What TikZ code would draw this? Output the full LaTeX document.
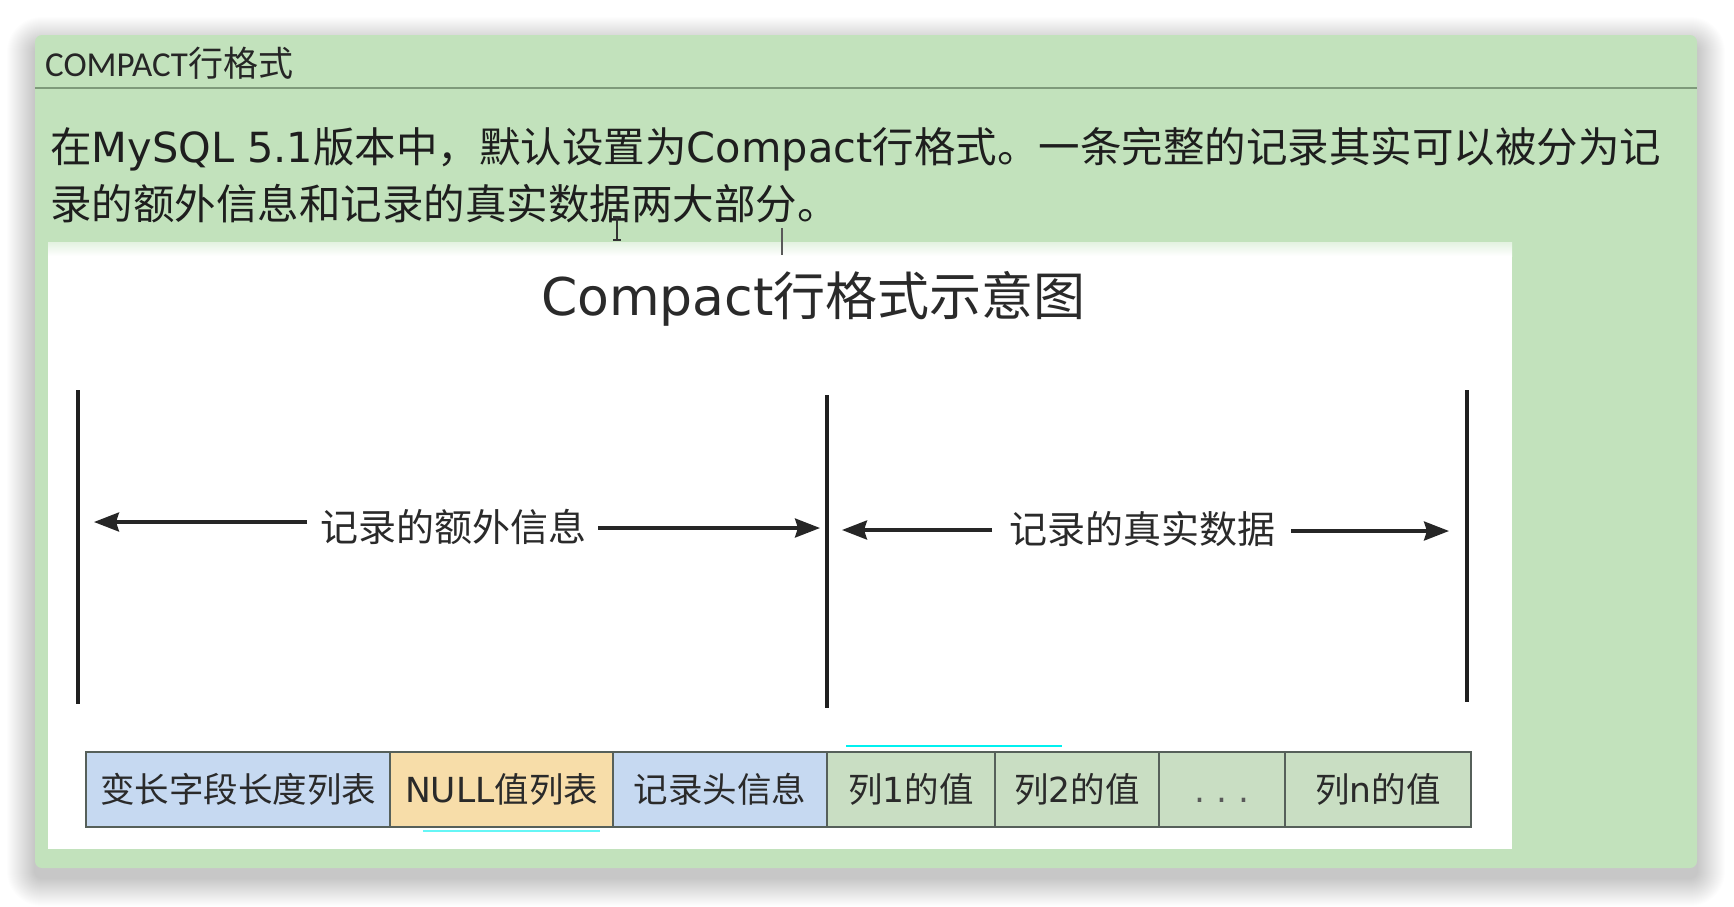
\documentclass[tikz,border=0pt]{standalone}
\usepackage{fontspec}
\newfontfamily\cjk{Noto Sans CJK SC}
\newfontfamily\dv{DejaVu Sans}
\newfontfamily\carl{Carlito}
\usetikzlibrary{arrows.meta}
\definecolor{panelgreen}{HTML}{C2E2BC}
\definecolor{headline}{HTML}{7E9A7A}
\definecolor{bodytext}{HTML}{1E1E1E}
\definecolor{diagtext}{HTML}{2A2A2A}
\definecolor{cblue}{HTML}{C6D9F1}
\definecolor{corange}{HTML}{F7DDA9}
\definecolor{cgreen}{HTML}{C9DEC3}
\definecolor{cellborder}{HTML}{56605A}
\definecolor{selcyan}{HTML}{00F0F0}
\tikzset{
  cell/.style={draw=cellborder, line width=1.8pt, minimum height=75pt, inner sep=0pt,
    text=diagtext, font=\cjk\fontsize{34.5}{40}\selectfont, text height=30pt, text depth=4pt},
  sectlabel/.style={inner sep=0pt, text=diagtext, font=\cjk\fontsize{38}{44}\selectfont,
    text height=33pt, text depth=5pt},
  divider/.style={line width=3.3pt, draw=black!88},
  darrow/.style={line width=3.3pt, draw=black!85, -{Stealth[length=25pt,width=19pt,inset=3pt]}},
  bodyline/.style={anchor=base west, inner sep=0pt, text=bodytext, font=\fontsize{41.5}{48}\selectfont}
}
\begin{document}
\begin{tikzpicture}[x=1pt,y=-1pt]
\useasboundingbox[fill=white] (0,0) rectangle (1734,906);
% soft shadow
\foreach \i in {1,...,28}{
  \fill[black, opacity=0.0065, rounded corners={(7+\i)*1pt}]
    ({35-\i},{35-\i+10}) rectangle ({1697+\i},{868+\i+10});
}
% panel
\fill[panelgreen, rounded corners=7pt] (35,35) rectangle (1697,868);
\draw[headline, line width=1.6pt] (35,88) -- (1697,88);
\node[anchor=base west, inner sep=0pt, text=black!85, font=\fontsize{35}{40}\selectfont] (hdr) at (45,76)
  {{\carl COMPACT}{\cjk 行格式}};
\node[bodyline] (l1) at (50,162)
  {{\cjk 在}{\dv MySQL 5.1}{\cjk 版本中，默认设置为}{\dv Compact}{\cjk 行格式。一条完整的记录其实可以被分为记}};
\node[bodyline] (l2) at (50,219)
  {{\cjk 录的额外信息和记录的真实数据两大部分。}};
% white drawing area
\fill[white] (48,242) rectangle (1512,849);
\fill[top color=panelgreen!45, bottom color=white] (48,242) rectangle (1512,256);
% cursor artifacts
\draw[black!80, line width=1.4pt] (617,217) -- (617,240) (613,217) -- (621,217) (613,240) -- (621,240);
\draw[black!65, line width=1.4pt] (782,228) -- (782,255);
% title
\node[anchor=base, inner sep=0pt, text=diagtext, font=\fontsize{52}{60}\selectfont] (title) at (813.5,315)
  {{\dv Compact}{\cjk 行格式示意图}};
% dividers
\coordinate (v1t) at (78,390); \coordinate (v1b) at (78,704);
\coordinate (v2t) at (827,395); \coordinate (v2b) at (827,708);
\coordinate (v3t) at (1467,390); \coordinate (v3b) at (1467,702);
\draw[divider] (v1t) -- (v1b);
\draw[divider] (v2t) -- (v2b);
\draw[divider] (v3t) -- (v3b);
% section labels and arrows
\node[sectlabel] (lab1) at (453,527) {记录的额外信息};
\node[sectlabel] (lab2) at (1142,529) {记录的真实数据};
\coordinate (a1s) at (307,522); \coordinate (a1e) at (94,522);
\coordinate (a2s) at (598,528); \coordinate (a2e) at (820,528);
\coordinate (a3s) at (992,530); \coordinate (a3e) at (842,530);
\coordinate (a4s) at (1291,531); \coordinate (a4e) at (1449,531);
\draw[darrow] (a1s) -- (a1e);
\draw[darrow] (a2s) -- (a2e);
\draw[darrow] (a3s) -- (a3e);
\draw[darrow] (a4s) -- (a4e);
% selection artifacts
\draw[selcyan, line width=2.5pt] (846,746) -- (1062,746);
\draw[selcyan!60, line width=2pt] (423,831) -- (600,831);
% record cells
\node[cell, fill=cblue, minimum width=304pt] (c1) at (238,789.5) {变长字段长度列表};
\node[cell, fill=corange, minimum width=223pt] (c2) at (501.5,789.5) {{\dv NULL}值列表};
\node[cell, fill=cblue, minimum width=214pt] (c3) at (720,789.5) {记录头信息};
\node[cell, fill=cgreen, minimum width=168pt] (c4) at (911,789.5) {列{\dv 1}的值};
\node[cell, fill=cgreen, minimum width=164pt] (c5) at (1077,789.5) {列{\dv 2}的值};
\node[cell, fill=cgreen, minimum width=126pt] (c6) at (1222,789.5) {{\dv\color{black!65}.\hspace{11pt}.\hspace{11pt}.}};
\node[cell, fill=cgreen, minimum width=186pt] (c7) at (1378,789.5) {列{\dv n}的值};
\end{tikzpicture}
\end{document}
